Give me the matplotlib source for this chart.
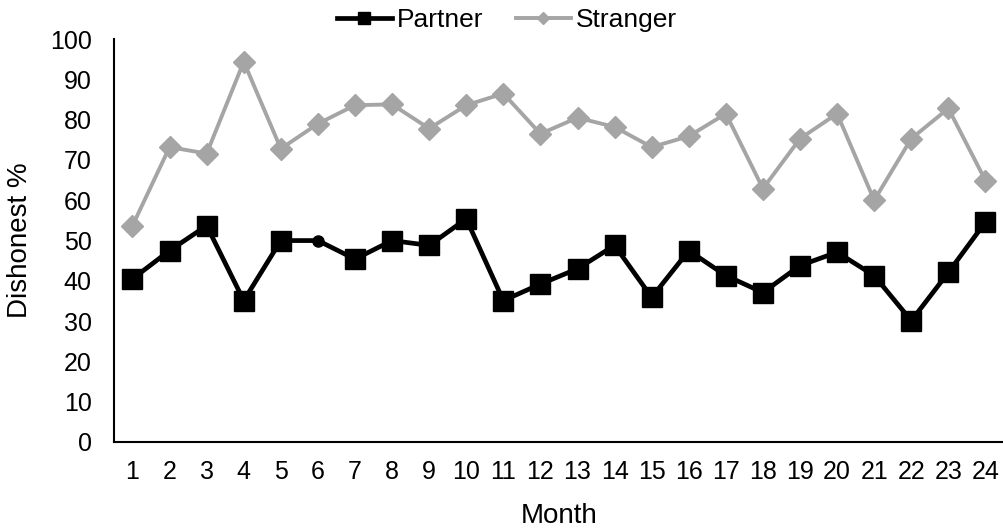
import matplotlib.pyplot as plt

plt.rcParams['font.family'] = ['Liberation Sans', 'DejaVu Sans']

months = list(range(1, 25))
partner = [40.5, 47.5, 53.7, 35.1, 50.0, 50.0, 45.4, 50.0, 48.8, 55.4, 35.1, 39.2,
           43.0, 48.8, 35.9, 47.5, 41.3, 37.1, 43.8, 47.1, 41.3, 30.1, 42.1, 54.6]
stranger = [53.7, 73.2, 71.6, 94.4, 72.8, 79.0, 83.6, 83.8, 77.8, 83.6, 86.5, 76.5,
            80.5, 78.2, 73.2, 75.9, 81.5, 62.9, 75.3, 81.5, 60.0, 75.3, 82.8, 64.9]

fig = plt.figure(figsize=(10.04, 5.29), dpi=100)
ax = fig.add_axes([0.1135, 0.1645, 0.8865, 0.7615])

grey = '#A5A5A5'
ax.plot(months, partner, color='black', lw=3.4, marker='s', ms=14,
        markevery=[i for i in range(24) if i != 5], label='Partner', zorder=3)
# month 6 is drawn with a small round marker
ax.plot(months[5], partner[5], 'o', color='black', ms=8, zorder=4)
ax.plot(months, stranger, color=grey, lw=2.8, marker='D', ms=11,
        label='Stranger', zorder=2)

ax.set_xlim(0.5, 24.5)
ax.set_ylim(0, 100)
ax.set_xticks(months)
ax.set_yticks(range(0, 101, 10))
ax.tick_params(length=0, labelsize=18)
ax.tick_params(axis='x', pad=13)
ax.tick_params(axis='y', pad=16)
for s in ['top', 'right']:
    ax.spines[s].set_visible(False)
for s in ['left', 'bottom']:
    ax.spines[s].set_linewidth(1.5)

ax.set_xlabel('Month', fontsize=20, labelpad=14)
ax.set_ylabel('Dishonest %', fontsize=20, labelpad=12)

fig.legend(loc='center', bbox_to_anchor=(0.505, 0.962), ncol=2, frameon=False,
           fontsize=19, handlelength=2.1, handletextpad=0.2, columnspacing=1.2,
           markerscale=0.6, borderpad=0)

fig.savefig('out.png', dpi=100)
